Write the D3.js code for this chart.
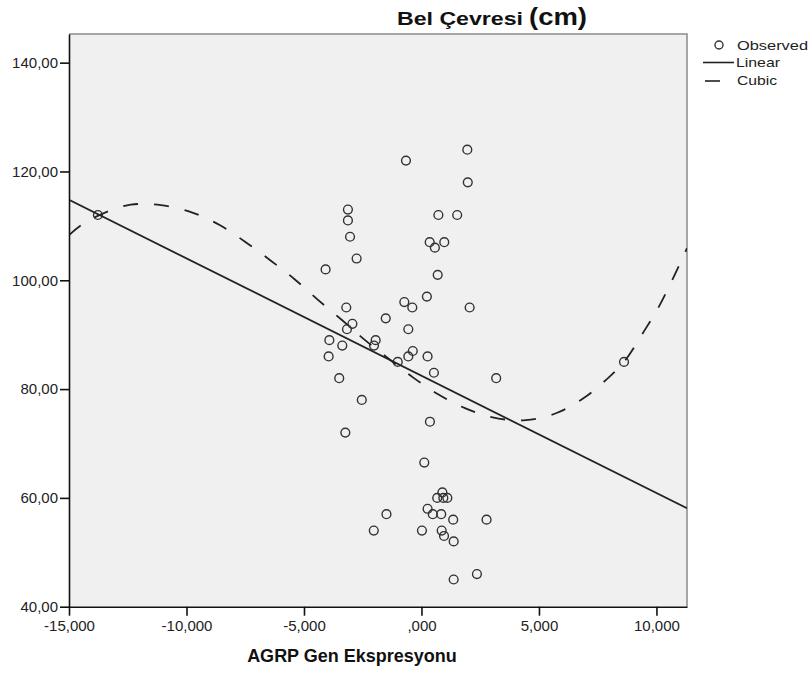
<!DOCTYPE html>
<html>
<head>
<meta charset="utf-8">
<script src="https://cdn.jsdelivr.net/npm/d3@7"></script>
<style>
  html, body { margin: 0; padding: 0; background: #ffffff; }
  svg { display: block; }
  text { font-family: "Liberation Sans", Arial, sans-serif; }
</style>
</head>
<body>
<svg id="chart" width="811" height="679"></svg>
<script>
// ---- Data ----
const obsX = [-13.77, -0.66, 1.95, 1.97, -3.13, -3.13, -3.04, -2.76, -4.08, 0.72,
              1.52, 0.35, 0.97, 0.57, 0.69, 0.23, -0.73, -0.39, 2.05, -3.20,
              -1.52, -2.94, -3.17, -0.56, -3.92, -1.95, -2.02, -3.37, -3.95, -0.37,
              -0.56, 0.26, -1.01, 0.53, 3.18, -3.50, -2.54, 0.36, -3.24, 0.12,
              0.89, 0.67, 0.93, 1.10, 0.26, 0.48, 0.84, -1.49, 1.35, 2.77,
              -2.03, 0.02, 0.86, 0.96, 1.37, 2.36, 1.37, 8.62];
const obsY = [112, 122, 124, 118, 113, 111, 108, 104, 102, 112,
              112, 107, 107, 106, 101, 97, 96, 95, 95, 95,
              93, 92, 91, 91, 89, 89, 88, 88, 86, 87,
              86, 86, 85, 83, 82, 82, 78, 74, 72, 66.5,
              61, 60, 60, 60, 58, 57, 57, 57, 56, 56,
              54, 54, 54, 53, 52, 46, 45, 85];

// Linear fit line (end points)
const linearX = [-15, 11.3];
const linearY = [114.8, 58.1];

// Cubic fit curve
const cubicX = [-15, -14.46, -13.54, -12.37, -11.09, -9.78, -8.57, -7.48, -6.41, -5.40,
                -4.43, -3.36, -2.40, -1.37, -0.38, 0.69, 1.85, 3.13, 4.44, 5.75,
                6.89, 7.88, 8.62, 9.48, 10.11, 10.71, 11.3];
const cubicY = [108.3, 110.2, 112.3, 113.9, 113.8, 112.5, 110.1, 107.0, 103.6, 100.2,
                96.5, 92.6, 89.0, 85.5, 82.2, 79.1, 76.5, 74.7, 74.3, 75.6,
                78.3, 81.8, 85.0, 90.7, 95.2, 100.4, 105.9];

const xTicks = [-15, -10, -5, 0, 5, 10];
const xTickLabels = ["-15,000", "-10,000", "-5,000", ",000", "5,000", "10,000"];
const yTicks = [40, 60, 80, 100, 120, 140];
const yTickLabels = ["40,00", "60,00", "80,00", "100,00", "120,00", "140,00"];

const chartTitle = "Bel Çevresi";
const chartTitleUnit = "(cm)";
const xTitle = "AGRP Gen Ekspresyonu";
const legendLabels = ["Observed", "Linear", "Cubic"];

// ---- Layout ----
const plot = { left: 69, right: 687, top: 34, bottom: 606.7 };
const x = d3.scaleLinear().domain([-15, 11.3]).range([plot.left, plot.right]);
const y = d3.scaleLinear().domain([40, 145.27]).range([plot.bottom, plot.top]);

const svg = d3.select("#chart");

// plot background
svg.append("rect")
  .attr("x", plot.left).attr("y", plot.top)
  .attr("width", plot.right - plot.left).attr("height", plot.bottom - plot.top)
  .attr("fill", "#f0f0f0");

// top & right frame
svg.append("path")
  .attr("d", `M${plot.left},${plot.top}H${plot.right}V${plot.bottom}`)
  .attr("fill", "none").attr("stroke", "#8a8a8a").attr("stroke-width", 1.5);

svg.append("clipPath").attr("id", "clip")
  .append("rect").attr("x", plot.left).attr("y", plot.top)
  .attr("width", plot.right - plot.left).attr("height", plot.bottom - plot.top);

const g = svg.append("g").attr("clip-path", "url(#clip)");

// observed points
const pts = obsX.map((d, i) => ({ x: d, y: obsY[i] }));
g.selectAll("circle.obs").data(pts).enter().append("circle")
  .attr("class", "obs")
  .attr("cx", d => x(d.x)).attr("cy", d => y(d.y)).attr("r", 4.4)
  .attr("fill", "none").attr("stroke", "#333").attr("stroke-width", 1.4);

// linear line
const lin = linearX.map((d, i) => ({ x: d, y: linearY[i] }));
g.append("path").datum(lin)
  .attr("d", d3.line().x(d => x(d.x)).y(d => y(d.y)))
  .attr("fill", "none").attr("stroke", "#222").attr("stroke-width", 1.8);

// cubic curve
const cub = cubicX.map((d, i) => ({ x: d, y: cubicY[i] }));
g.append("path").datum(cub)
  .attr("d", d3.line().curve(d3.curveCatmullRom.alpha(0.5)).x(d => x(d.x)).y(d => y(d.y)))
  .attr("fill", "none").attr("stroke", "#222").attr("stroke-width", 1.8)
  .attr("stroke-dasharray", "15,16");

// axes
const xAxis = svg.append("g").attr("transform", `translate(0,${plot.bottom})`)
  .call(d3.axisBottom(x).tickValues(xTicks).tickFormat((d, i) => xTickLabels[i])
        .tickSize(9).tickSizeOuter(0).tickPadding(2));
const yAxis = svg.append("g").attr("transform", `translate(${plot.left},0)`)
  .call(d3.axisLeft(y).tickValues(yTicks).tickFormat((d, i) => yTickLabels[i])
        .tickSize(9).tickSizeOuter(0).tickPadding(2));
[xAxis, yAxis].forEach(a => {
  a.select(".domain").attr("stroke", "#111").attr("stroke-width", 1.6);
  a.selectAll(".tick line").attr("stroke", "#111").attr("stroke-width", 1.6);
  a.selectAll(".tick text").attr("fill", "#222").style("font-size", "15px")
    .style("font-family", '"Liberation Sans", Arial, sans-serif');
});
xAxis.selectAll(".tick text").attr("dy", "0.9em");

// chart title
svg.append("text").attr("x", 397).attr("y", 25)
  .attr("fill", "#111").style("font-weight", "bold").style("font-size", "18px")
  .attr("textLength", 126).attr("lengthAdjust", "spacingAndGlyphs")
  .text(chartTitle);
svg.append("text").attr("x", 529).attr("y", 25)
  .attr("fill", "#111").style("font-weight", "bold").style("font-size", "23px")
  .attr("textLength", 58).attr("lengthAdjust", "spacingAndGlyphs")
  .text(chartTitleUnit);

// x axis title
svg.append("text").attr("x", 352).attr("y", 662).attr("text-anchor", "middle")
  .attr("fill", "#111").style("font-weight", "bold").style("font-size", "18px")
  .text(xTitle);

// legend
const lg = svg.append("g");
lg.append("circle").attr("cx", 719).attr("cy", 45).attr("r", 4)
  .attr("fill", "none").attr("stroke", "#333").attr("stroke-width", 1.4);
lg.append("line").attr("x1", 703).attr("x2", 734).attr("y1", 62.5).attr("y2", 62.5)
  .attr("stroke", "#222").attr("stroke-width", 1.6);
lg.append("line").attr("x1", 705).attr("x2", 720).attr("y1", 81).attr("y2", 81)
  .attr("stroke", "#222").attr("stroke-width", 1.6);
const legY = [50, 67, 85];
const legX = [737, 736, 737];
const legW = [71, 44, 40];
legendLabels.forEach((s, i) => {
  lg.append("text").attr("x", legX[i]).attr("y", legY[i]).attr("fill", "#222")
    .style("font-size", "13.5px")
    .attr("textLength", legW[i]).attr("lengthAdjust", "spacingAndGlyphs")
    .text(s);
});
</script>
</body>
</html>
